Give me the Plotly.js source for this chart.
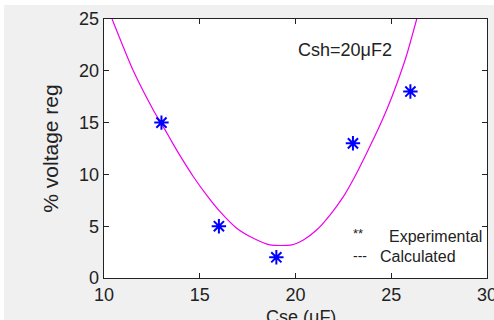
<!DOCTYPE html>
<html>
<head>
<meta charset="utf-8">
<script src="https://cdn.plot.ly/plotly-3.0.1.min.js"></script>
<style>html,body{margin:0;padding:0;background:#fff;}#chart{width:494px;height:320px;}</style>
</head>
<body>
<div id="chart"></div>
<script>
// Experimental points
var expX = [13, 16, 19, 23, 26];
var expY = [15, 5, 2, 13, 18];
// Calculated curve
var calcX = [10.42, 11.53, 12.58, 13.19, 13.62, 14.14, 14.66, 15.36, 16.06, 16.93, 17.8, 18.67, 19.8, 20.41, 21.1, 21.8, 22.5, 23.1, 23.7, 24.3, 24.8, 25.3, 25.8, 26.33];
var calcY = [25, 20, 16.2, 14.3, 12.9, 11.3, 9.8, 8.0, 6.4, 4.8, 3.83, 3.19, 3.19, 3.67, 4.63, 6.08, 7.85, 9.8, 12.0, 14.3, 16.4, 18.8, 21.5, 25];
var xTicks = [10, 15, 20, 25, 30];
var yTicks = [0, 5, 10, 15, 20, 25];
var xTitle = 'Cse (\u03bcF)';
var yTitle = '% voltage reg';

var W = 494, H = 320, L = 104, R = 7, T = 19, B = 42;
var pw = W - L - R, ph = H - T - B;
function px(x) { return (x - L) / pw; }
function py(y) { return (H - B - y) / ph; }

var font = 'Arial, "Liberation Sans", sans-serif';

var traces = [
  {
    x: calcX, y: calcY, type: 'scatter', mode: 'lines',
    line: {color: '#ee00ee', width: 1.2, shape: 'spline', smoothing: 0.6},
    hoverinfo: 'skip', showlegend: false, cliponaxis: true
  },
  {
    x: expX, y: expY, type: 'scatter', mode: 'markers',
    marker: {symbol: 'asterisk-open', size: 12, color: '#0000ff', line: {color: '#0000ff', width: 2}},
    showlegend: false, cliponaxis: false
  }
];

var layout = {
  width: W, height: H,
  margin: {l: L, r: R, t: T, b: B, pad: 0},
  paper_bgcolor: '#ffffff',
  plot_bgcolor: 'rgba(0,0,0,0)',
  showlegend: false,
  font: {family: font, color: '#222222', size: 18},
  xaxis: {
    range: [10, 30], tickvals: xTicks, ticktext: xTicks.map(String),
    ticks: 'inside', ticklen: 5, tickcolor: '#222', mirror: 'ticks',
    showline: true, linecolor: '#222', linewidth: 1.3, showgrid: false, zeroline: false,
    ticklabeloverflow: 'allow',
    tickfont: {family: font, size: 18, color: '#222'}
  },
  yaxis: {
    range: [0, 25], tickvals: yTicks, ticktext: yTicks.map(String),
    ticks: 'inside', ticklen: 5, tickcolor: '#222', mirror: 'ticks',
    showline: true, linecolor: '#222', linewidth: 1.3, showgrid: false, zeroline: false,
    tickfont: {family: font, size: 18, color: '#222'},
    title: {text: yTitle, font: {family: font, size: 21, color: '#222'}, standoff: 14}
  },
  shapes: [
    {type: 'rect', xref: 'paper', yref: 'paper', x0: px(4), x1: px(W + 2), y0: py(H + 2), y1: py(5),
     fillcolor: '#f0f0f0', line: {width: 0}, layer: 'below'},
    {type: 'rect', xref: 'paper', yref: 'paper', x0: 0, x1: 1, y0: 0, y1: 1,
     fillcolor: '#ffffff', line: {width: 0}, layer: 'below'}
  ],
  annotations: [
    {text: xTitle, xref: 'paper', yref: 'paper', x: px(301), y: py(317), xanchor: 'center', yanchor: 'middle',
     showarrow: false, font: {family: font, size: 18, color: '#222'}},
    {text: 'Csh=20\u03bcF2', xref: 'paper', yref: 'paper', x: px(296), y: py(50), xanchor: 'left', yanchor: 'middle',
     showarrow: false, font: {family: font, size: 18, color: '#222'}},
    {text: '**', xref: 'paper', yref: 'paper', x: px(351), y: py(233), xanchor: 'left', yanchor: 'middle',
     showarrow: false, font: {family: font, size: 13, color: '#222'}},
    {text: 'Experimental', xref: 'paper', yref: 'paper', x: px(387), y: py(236), xanchor: 'left', yanchor: 'middle',
     showarrow: false, font: {family: font, size: 16, color: '#222'}},
    {text: '---', xref: 'paper', yref: 'paper', x: px(351), y: py(256), xanchor: 'left', yanchor: 'middle',
     showarrow: false, font: {family: font, size: 14, color: '#222'}},
    {text: 'Calculated', xref: 'paper', yref: 'paper', x: px(378), y: py(256), xanchor: 'left', yanchor: 'middle',
     showarrow: false, font: {family: font, size: 16, color: '#222'}}
  ]
};

Plotly.newPlot('chart', traces, layout, {staticPlot: true, displayModeBar: false});
</script>
</body>
</html>
